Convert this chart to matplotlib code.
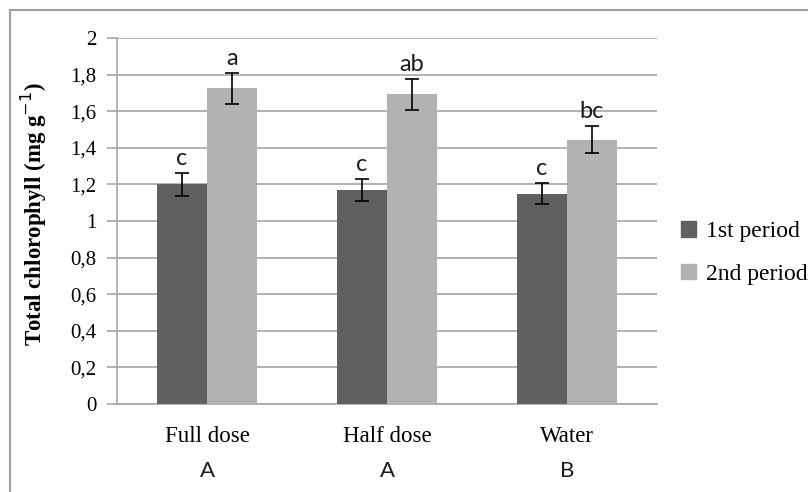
import matplotlib
matplotlib.use("Agg")
import matplotlib.pyplot as plt
from matplotlib.lines import Line2D
from matplotlib.patches import Patch
import numpy as np

# data
treatments = ["Full dose", "Half dose", "Water"]
group_letters = ["A", "A", "B"]
period_names = ["1st period", "2nd period"]
first_period = [1.20, 1.17, 1.15]
first_err = [0.063, 0.060, 0.058]
second_period = [1.725, 1.692, 1.445]
second_err = [0.085, 0.083, 0.072]
first_letters = ["c", "c", "c"]
second_letters = ["a", "ab", "bc"]

dark = "#606060"
light = "#b2b2b2"
grid_col = "#a6a6a6"
serif = "Liberation Serif"
sans = "Lato"

fig = plt.figure(figsize=(8.08, 4.92), dpi=100)
ax = fig.add_axes([117 / 808, 88 / 492, 540 / 808, 366 / 492])

x = np.arange(len(treatments))
w = 0.278
b1 = ax.bar(x - w / 2, first_period, w, color=dark, zorder=3)
b2 = ax.bar(x + w / 2, second_period, w, color=light, zorder=3)
ax.errorbar(x - w / 2, first_period, yerr=first_err, fmt="none", ecolor="black",
            elinewidth=1.2, capsize=5, capthick=1.2, zorder=4)
ax.errorbar(x + w / 2, second_period, yerr=second_err, fmt="none", ecolor="black",
            elinewidth=1.2, capsize=5, capthick=1.2, zorder=4)

# significance letters over the bars
for xi, v, e, t in zip(x - w / 2, first_period, first_err, first_letters):
    ax.annotate(t, (xi, v + e), xytext=(0, 3), textcoords="offset points",
                ha="center", va="bottom", fontsize=17, family=sans, color="#1a1a1a")
for xi, v, e, t in zip(x + w / 2, second_period, second_err, second_letters):
    ax.annotate(t, (xi, v + e), xytext=(0, 3), textcoords="offset points",
                ha="center", va="bottom", fontsize=17, family=sans, color="#1a1a1a")

ax.set_xlim(-0.5, 2.5)
ax.set_ylim(0, 2)
yt = np.arange(0, 2.01, 0.2)
ax.set_yticks(yt)
ylabels = []
for v in yt:
    s = f"{v:.1f}".replace(".", ",")
    if s.endswith(",0"):
        s = s[:-2]
    ylabels.append(s)
ax.set_yticklabels(ylabels, family=serif, fontsize=15)
ax.set_xticks(x)
ax.set_xticklabels(treatments, family=serif, fontsize=16.5)
ax.tick_params(axis="x", length=0, pad=16)
ax.tick_params(axis="y", length=7, color=grid_col, width=1.2, pad=8)
ax.yaxis.grid(True, color=grid_col, linewidth=1.2, zorder=0)
for s in ["top", "right"]:
    ax.spines[s].set_visible(False)
for s in ["left", "bottom"]:
    ax.spines[s].set_color(grid_col)
    ax.spines[s].set_linewidth(1.2)

# group letters under the category names
for xi, g in zip(x, group_letters):
    ax.annotate(g, (xi, 0), xytext=(0, -48), textcoords="offset points",
                ha="center", va="center", fontsize=16, family=sans, color="#1a1a1a")

ax.set_ylabel("Total chlorophyll (mg g$^{-1}$)", family=serif, fontsize=16.5,
              fontweight="bold")
ax.yaxis.set_label_coords(-0.125, 0.52)

handles = [Patch(color=dark), Patch(color=light)]
fig.legend(handles, period_names, loc="center left", bbox_to_anchor=(664 / 808, 1 - 253 / 492),
           frameon=False, prop={"family": serif, "size": 17}, handlelength=0.65,
           handleheight=0.65, handletextpad=0.45, labelspacing=0.9, borderpad=0.2)

# chart border (left and top edges visible)
fig.add_artist(Line2D([10 / 808, 10 / 808], [0, 1 - 10 / 492], transform=fig.transFigure,
                      color="#a0a0a0", linewidth=1.5))
fig.add_artist(Line2D([10 / 808, 1], [1 - 10 / 492, 1 - 10 / 492], transform=fig.transFigure,
                      color="#a0a0a0", linewidth=1.5))

fig.savefig("out.png", dpi=100)
